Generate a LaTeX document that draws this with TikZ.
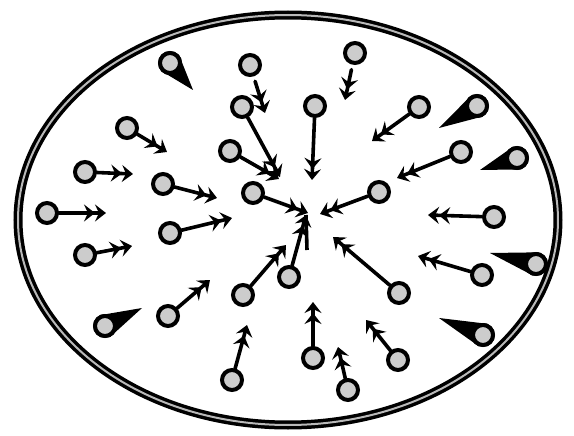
\documentclass[tikz,border=0pt]{standalone}
\usetikzlibrary{arrows.meta,calc}
\begin{document}
\begin{tikzpicture}[x=1pt,y=-1pt,
  particle/.style={circle,draw=black,line width=4pt,fill=gray!40,minimum size=20pt,inner sep=0pt},
  flow/.style={line width=3.6pt,line cap=round,-{Stealth[length=11pt,width=17pt,inset=4pt]Stealth[length=11pt,width=17pt,inset=4pt]}},
  gapflow/.style={flow,shorten <=5pt},
  rim/.style={line width=9pt,draw=black},
  riminner/.style={line width=2pt,draw=gray!55}]
\useasboundingbox (0,0) rectangle (574,436);
\path[fill=white] (0,0) rectangle (574,436);
\draw[rim] (288,220) ellipse [x radius=270, y radius=205];
\draw[riminner] (288,220) ellipse [x radius=270, y radius=205];

% comet-shaped particles (tapered tails)
\newcommand{\cometp}[3]{%
  \coordinate (c#1) at #2;
  \coordinate (t#1) at #3;
  \fill ($(c#1)!12pt!90:(t#1)$) -- (t#1) -- ($(c#1)!12pt!-90:(t#1)$) -- cycle;
  \fill (c#1) circle (12pt);
  \node[particle] (p#1) at (c#1) {};}

\cometp{1}{(170,63)}{(193,90)}
\cometp{14}{(105,326)}{(142,308)}
\cometp{20}{(477,106)}{(439,128)}
\cometp{23}{(517,158)}{(480,170)}
\cometp{25}{(536,264)}{(490,253)}
\cometp{28}{(483,335)}{(439,318)}

% particles with arrows
\node[particle] (p2) at (250,65) {};
\node[particle] (p3) at (242,107) {};
\node[particle] (p4) at (230,151) {};
\node[particle] (p5) at (253,193) {};
\node[particle] (p6) at (127,128) {};
\node[particle] (p7) at (85,172) {};
\node[particle] (p8) at (163,184) {};
\node[particle] (p9) at (47,213) {};
\node[particle] (p10) at (85,255) {};
\node[particle] (p11) at (170,233) {};
\node[particle] (p12) at (243,295) {};
\node[particle] (p13) at (168,316) {};
\node[particle] (p15) at (232,380) {};
\node[particle] (p16) at (289,277) {};
\node[particle] (p17) at (315,106) {};
\node[particle] (p18) at (355,53) {};
\node[particle] (p19) at (419,107) {};
\node[particle] (p21) at (461,152) {};
\node[particle] (p22) at (379,192) {};
\node[particle] (p24) at (494,217) {};
\node[particle] (p26) at (482,275) {};
\node[particle] (p27) at (399,293) {};
\node[particle] (p29) at (313,358) {};
\node[particle] (p30) at (348,390) {};
\node[particle] (p31) at (398,360) {};

\coordinate (t2) at (265,113);
\coordinate (t3) at (280,177);
\coordinate (t4) at (279,179);
\coordinate (t5) at (308,213);
\coordinate (t6) at (167,152);
\coordinate (t7) at (133,174);
\coordinate (t8) at (217,198);
\coordinate (t9) at (106,213);
\coordinate (t10) at (132,246);
\coordinate (t11) at (232,218);
\coordinate (t12) at (286,245);
\coordinate (t13) at (210,280);
\coordinate (t15) at (247,325);
\coordinate (t16) at (306,215);
\coordinate (t17) at (312,180);
\coordinate (t18) at (345,100);
\coordinate (t19) at (372,141);
\coordinate (t21) at (397,178);
\coordinate (t22) at (320,214);
\coordinate (t24) at (428,215);
\coordinate (t26) at (418,256);
\coordinate (t27) at (333,237);
\coordinate (t29) at (313,302);
\coordinate (t30) at (338,347);
\coordinate (t31) at (366,320);
\coordinate (s16) at (307,250);

\draw[gapflow] (p2) -- (t2);
\draw[flow] (p3) -- (t3);
\draw[flow] (p4) -- (t4);
\draw[flow] (p5) -- (t5);
\draw[flow] (p6) -- (t6);
\draw[flow] (p7) -- (t7);
\draw[flow] (p8) -- (t8);
\draw[flow] (p9) -- (t9);
\draw[flow] (p10) -- (t10);
\draw[flow] (p11) -- (t11);
\draw[flow] (p12) -- (t12);
\draw[flow] (p13) -- (t13);
\draw[flow] (p15) -- (t15);
\draw[flow] (p16) -- (t16);
\draw[line width=3.6pt] (t16) -- (s16);
\draw[flow] (p17) -- (t17);
\draw[gapflow] (p18) -- (t18);
\draw[flow] (p19) -- (t19);
\draw[flow] (p21) -- (t21);
\draw[flow] (p22) -- (t22);
\draw[flow] (p24) -- (t24);
\draw[flow] (p26) -- (t26);
\draw[flow] (p27) -- (t27);
\draw[flow] (p29) -- (t29);
\draw[flow] (p30) -- (t30);
\draw[flow] (p31) -- (t31);
\end{tikzpicture}
\end{document}
